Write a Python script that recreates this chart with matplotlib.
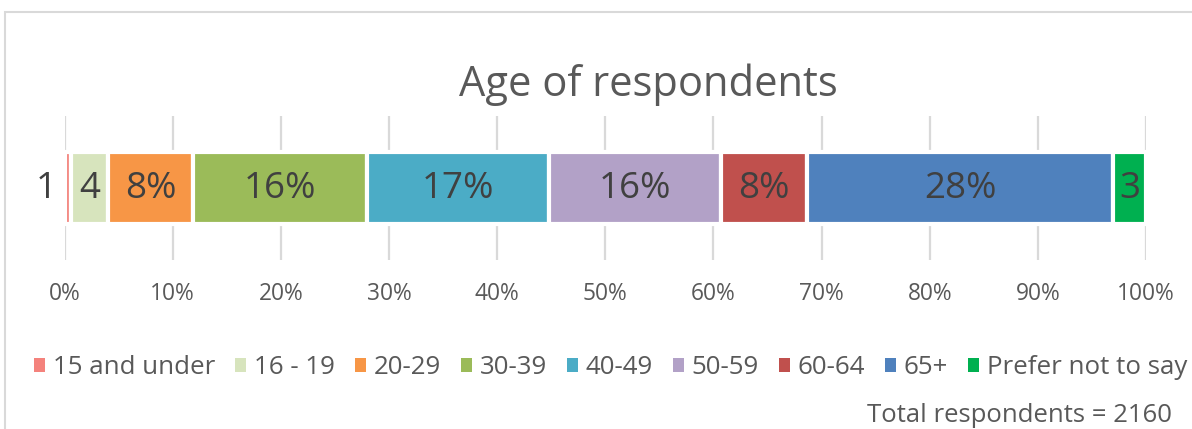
import matplotlib
matplotlib.use('Agg')
import matplotlib.pyplot as plt
from matplotlib.patches import Rectangle, Patch

categories = ['15 and under', '16 - 19', '20-29', '30-39', '40-49', '50-59', '60-64', '65+', 'Prefer not to say']
shares = [0.6, 3.44, 7.82, 16.14, 16.78, 15.94, 7.98, 28.27, 3.03]
bar_labels = ['1', '4', '8%', '16%', '17%', '16%', '8%', '28%', '3']
colors = ['#F4827C', '#D7E4BD', '#F79646', '#9BBB59', '#4BACC6', '#B2A1C7', '#C0504D', '#4F81BD', '#00B050']
tick_values = list(range(0, 101, 10))
tick_labels = [f'{v}%' for v in tick_values]
title = 'Age of respondents'
note = 'Total respondents = 2160'

plt.rcParams['font.family'] = ['Open Sans', 'DejaVu Sans']

W, H = 1192, 429
fig = plt.figure(figsize=(W / 100, H / 100), dpi=100)
fig.patch.set_facecolor('white')

# chart frame (extends beyond the cropped picture)
fig.add_artist(Rectangle((4.5 / W, -0.2), 1.0, 1 - 12.5 / H + 0.2, transform=fig.transFigure,
                         fill=False, edgecolor='#D9D9D9', lw=1.5))

ax = fig.add_axes([64.5 / W, 1 - 260 / H, (1146 - 64.5) / W, 144 / H])

left = 0.0
for cat, val, lab, col in zip(categories, shares, bar_labels, colors):
    ax.barh(0, val, left=left, height=0.505, color=col, edgecolor='white', linewidth=3.0, zorder=2)
    if lab == '1':
        ax.text(left - 0.7, -0.01, lab, ha='right', va='center', fontsize=26.5, color='#404040', zorder=3)
    else:
        ax.text(left + val / 2, -0.01, lab, ha='center', va='center', fontsize=26.5, color='#404040', zorder=3)
    left += val

ax.set_xlim(0, 100)
ax.set_ylim(-0.5, 0.5)
ax.set_xticks(tick_values)
ax.set_xticklabels(tick_labels, fontsize=16.4, color='#595959')
ax.tick_params(axis='x', length=0, pad=16)
ax.set_yticks([])
ax.grid(axis='x', color='#D9D9D9', lw=1.6, zorder=0)
ax.set_axisbelow(True)
for s in ax.spines.values():
    s.set_visible(False)

fig.text(648.5 / W, 1 - 96 / H, title, ha='center', va='baseline', fontsize=30, color='#595959')

handles = [Patch(facecolor=c, edgecolor='none') for c in colors]
fig.legend(handles=handles, labels=categories, ncol=9, loc='center left',
           bbox_to_anchor=(34 / W, 1 - 368 / H), frameon=False, fontsize=18.6,
           handlelength=0.44, handleheight=0.44, handletextpad=0.3, columnspacing=0.76,
           borderpad=0, borderaxespad=0, labelcolor='#595959')

fig.text(1172 / W, 1 - 415 / H, note, ha='right', va='center', fontsize=18.5, color='#595959')

fig.savefig('out.png', dpi=100)
